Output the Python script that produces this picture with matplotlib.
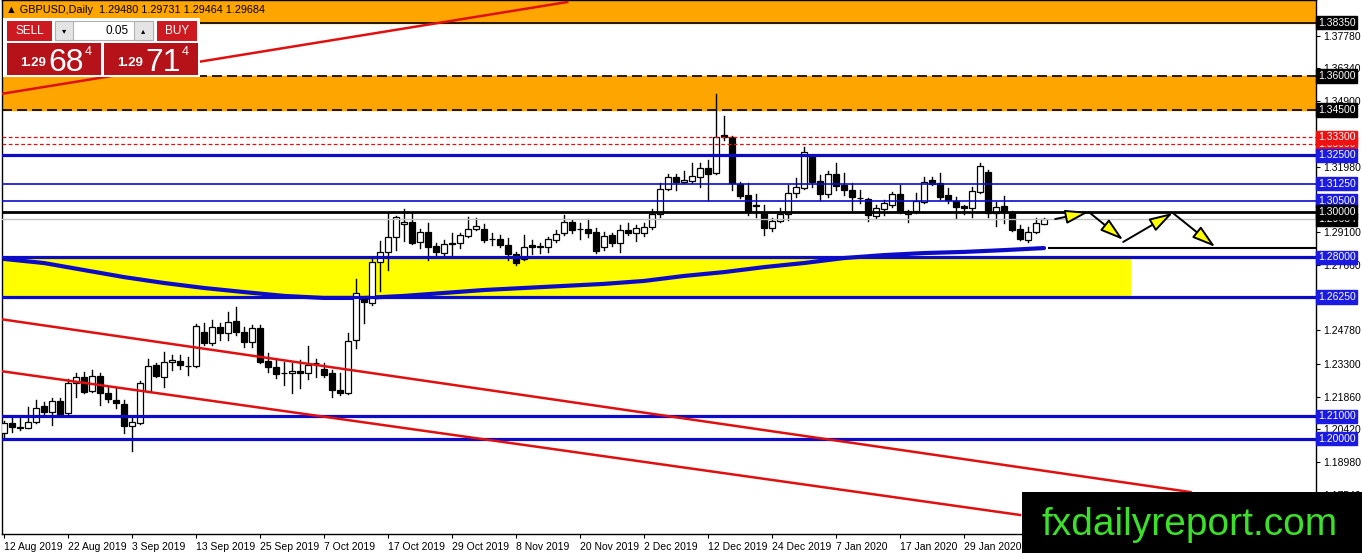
import matplotlib
matplotlib.use('Agg')
import matplotlib.pyplot as plt
from matplotlib.patches import Rectangle

plt.rcParams['font.family'] = ['Liberation Sans', 'DejaVu Sans']

# daily GBPUSD candles, 12 Aug 2019 -> 12 Feb 2020
opens = [1.2026, 1.2070, 1.2050, 1.2048, 1.2074, 1.2145, 1.2118, 1.2167, 1.2114, 1.2246,
         1.2272, 1.2211, 1.2277, 1.2202, 1.2171, 1.2153, 1.2056, 1.2070, 1.2211, 1.2325,
         1.2272, 1.2338, 1.2343, 1.2321, 1.2321, 1.2471, 1.2422, 1.2493, 1.2467, 1.2519,
         1.2471, 1.2427, 1.2489, 1.2343, 1.2316, 1.2290, 1.2290, 1.2299, 1.2290, 1.2334,
         1.2308, 1.2290, 1.2215, 1.2202, 1.2436, 1.2621, 1.2599, 1.2780, 1.2824, 1.2890,
         1.2947, 1.2956, 1.2868, 1.2912, 1.2850, 1.2819, 1.2863, 1.2863, 1.2894, 1.2925,
         1.2925, 1.2881, 1.2881, 1.2855, 1.2815, 1.2793, 1.2855, 1.2846, 1.2846, 1.2877,
         1.2908, 1.2956, 1.2925, 1.2925, 1.2912, 1.2846, 1.2899, 1.2863, 1.2921, 1.2908,
         1.2908, 1.2934, 1.2991, 1.3102, 1.3154, 1.3132, 1.3137, 1.3154, 1.3194, 1.3172,
         1.3340, 1.3331, 1.3124, 1.3075, 1.3031, 1.2996, 1.2930, 1.2960, 1.2991, 1.3084,
         1.3106, 1.3247, 1.3137, 1.3079, 1.3168, 1.3119, 1.3097, 1.3062, 1.3058, 1.2982,
         1.3013, 1.3031, 1.3079, 1.2991, 1.3004, 1.3044, 1.3141, 1.3128, 1.3075, 1.3049,
         1.3027, 1.3018, 1.3088, 1.3176, 1.2996, 1.3027, 1.3000, 1.2925, 1.2877, 1.2912,
         1.2948]
highs = [1.2079, 1.2092, 1.2092, 1.2140, 1.2171, 1.2162, 1.2180, 1.2180, 1.2264, 1.2290,
         1.2294, 1.2303, 1.2290, 1.2228, 1.2224, 1.2171, 1.2092, 1.2255, 1.2352, 1.2334,
         1.2383, 1.2369, 1.2369, 1.2361, 1.2506, 1.2511, 1.2524, 1.2511, 1.2559, 1.2581,
         1.2493, 1.2502, 1.2502, 1.2378, 1.2356, 1.2338, 1.2334, 1.2347, 1.2409, 1.2352,
         1.2334, 1.2303, 1.2290, 1.2467, 1.2705, 1.2625, 1.2797, 1.2872, 1.2996, 1.2982,
         1.3013, 1.2996, 1.2925, 1.2952, 1.2863, 1.2877, 1.2908, 1.2908, 1.2978, 1.2974,
         1.2947, 1.2908, 1.2899, 1.2886, 1.2824, 1.2899, 1.2877, 1.2863, 1.2890, 1.2921,
         1.2987, 1.2965, 1.2952, 1.2969, 1.2930, 1.2912, 1.2908, 1.2943, 1.2952, 1.2943,
         1.2952, 1.3013, 1.3128, 1.3168, 1.3168, 1.3181, 1.3216, 1.3216, 1.3229, 1.3520,
         1.3423, 1.3335, 1.3132, 1.3128, 1.3079, 1.3031, 1.2974, 1.3018, 1.3119, 1.3150,
         1.3287, 1.3251, 1.3163, 1.3181, 1.3216, 1.3172, 1.3128, 1.3097, 1.3060, 1.3031,
         1.3053, 1.3088, 1.3119, 1.3009, 1.3084, 1.3154, 1.3154, 1.3172, 1.3106, 1.3066,
         1.3031, 1.3110, 1.3216, 1.3185, 1.3044, 1.3071, 1.3004, 1.2943, 1.2934, 1.2974,
         1.2973]
lows = [1.2008, 1.2030, 1.2039, 1.2046, 1.2070, 1.2105, 1.2061, 1.2101, 1.2101, 1.2184,
        1.2202, 1.2206, 1.2149, 1.2162, 1.2136, 1.2026, 1.1946, 1.2065, 1.2208, 1.2272,
        1.2228, 1.2303, 1.2308, 1.2281, 1.2318, 1.2414, 1.2414, 1.2436, 1.2436, 1.2458,
        1.2405, 1.2405, 1.2336, 1.2294, 1.2268, 1.2237, 1.2202, 1.2224, 1.2264, 1.2272,
        1.2272, 1.2184, 1.2193, 1.2198, 1.2400, 1.2511, 1.2590, 1.2652, 1.2744, 1.2832,
        1.2872, 1.2860, 1.2841, 1.2788, 1.2802, 1.2802, 1.2802, 1.2841, 1.2890, 1.2921,
        1.2868, 1.2855, 1.2846, 1.2788, 1.2766, 1.2788, 1.2815, 1.2819, 1.2824, 1.2868,
        1.2899, 1.2908, 1.2881, 1.2890, 1.2819, 1.2832, 1.2850, 1.2824, 1.2899, 1.2872,
        1.2894, 1.2925, 1.2978, 1.3097, 1.3097, 1.3128, 1.3128, 1.3110, 1.3053, 1.3168,
        1.3318, 1.3097, 1.3062, 1.2987, 1.2978, 1.2899, 1.2916, 1.2956, 1.2965, 1.3066,
        1.3102, 1.3110, 1.3053, 1.3066, 1.3097, 1.3075, 1.3009, 1.3040, 1.2960, 1.2974,
        1.2987, 1.3022, 1.2996, 1.2956, 1.2996, 1.3040, 1.3119, 1.3057, 1.3040, 1.2974,
        1.2991, 1.2978, 1.3084, 1.2978, 1.2938, 1.2952, 1.2916, 1.2877, 1.2868, 1.2908,
        1.2946]
closes = [1.2070, 1.2052, 1.2048, 1.2074, 1.2136, 1.2118, 1.2167, 1.2109, 1.2246, 1.2272,
          1.2206, 1.2277, 1.2202, 1.2175, 1.2158, 1.2056, 1.2074, 1.2246, 1.2321, 1.2277,
          1.2338, 1.2347, 1.2325, 1.2323, 1.2497, 1.2422, 1.2493, 1.2467, 1.2515, 1.2471,
          1.2427, 1.2489, 1.2338, 1.2316, 1.2286, 1.2288, 1.2299, 1.2290, 1.2325, 1.2332,
          1.2281, 1.2215, 1.2202, 1.2431, 1.2643, 1.2603, 1.2780, 1.2824, 1.2890, 1.2978,
          1.2956, 1.2863, 1.2912, 1.2846, 1.2824, 1.2859, 1.2861, 1.2899, 1.2925, 1.2938,
          1.2877, 1.2879, 1.2855, 1.2815, 1.2775, 1.2846, 1.2846, 1.2848, 1.2881, 1.2903,
          1.2956, 1.2921, 1.2923, 1.2908, 1.2828, 1.2894, 1.2863, 1.2921, 1.2908, 1.2930,
          1.2934, 1.2991, 1.3102, 1.3154, 1.3132, 1.3141, 1.3159, 1.3194, 1.3168, 1.3331,
          1.3331, 1.3128, 1.3071, 1.3000, 1.3027, 1.2930, 1.2960, 1.2991, 1.3084, 1.3110,
          1.3265, 1.3132, 1.3079, 1.3168, 1.3115, 1.3097, 1.3066, 1.3060, 1.2987, 1.3018,
          1.3040, 1.3079, 1.3000, 1.3004, 1.3049, 1.3132, 1.3124, 1.3066, 1.3053, 1.3022,
          1.3018, 1.3093, 1.3203, 1.2996, 1.3022, 1.3000, 1.2921, 1.2881, 1.2912, 1.2952,
          1.2968]

# moving average, sampled every 5 bars
ma_bars = [0, 5, 10, 15, 20, 25, 30, 35, 40, 45, 50, 55, 60, 65,
           70, 75, 80, 85, 90, 95, 100, 105, 110, 115, 120, 125, 130]
ma_vals = [1.2793, 1.2775, 1.2744, 1.2713, 1.2687, 1.2665, 1.2647, 1.2630, 1.2621, 1.2621,
           1.2630, 1.2643, 1.2656, 1.2665, 1.2674, 1.2683, 1.2696, 1.2718, 1.2735, 1.2757,
           1.2775, 1.2797, 1.2810, 1.2819, 1.2824, 1.2832, 1.2841]

date_labels = ['12 Aug 2019', '22 Aug 2019', '3 Sep 2019', '13 Sep 2019', '25 Sep 2019',
               '7 Oct 2019', '17 Oct 2019', '29 Oct 2019', '8 Nov 2019', '20 Nov 2019',
               '2 Dec 2019', '12 Dec 2019', '24 Dec 2019', '7 Jan 2020', '17 Jan 2020',
               '29 Jan 2020']
price_ticks = [1.3778, 1.3634, 1.3490, 1.3198, 1.2910, 1.2766, 1.2478, 1.2330,
               1.2186, 1.2042, 1.1898, 1.1754]

# support / resistance levels
blue_levels = [1.3250, 1.2800, 1.2625, 1.2100, 1.2000]
thin_blue_levels = [1.3125, 1.3050]
red_dash_levels = [1.3330, 1.3300]
orange_zone = (1.3450, 1.3600)
top_zone = 1.3835
yellow_zone = (1.2625, 1.2800)
yellow_end_bar = 140.8
bid_price = 1.29684
key_level = 1.3000
small_line = (130.6, 1.2841)

# trend lines: ((bar, price), (bar, price))
trend_lines = [((-0.5, 1.3520), (70.4, 1.3926)),
               ((-0.5, 1.2528), (148.3, 1.1765)),
               ((-0.5, 1.2299), (127.0, 1.1664))]
# projected path
arrows = [((131.4, 1.2969), (135.6, 1.3000)),
          ((135.6, 1.3000), (139.9, 1.2877)),
          ((139.9, 1.2868), (146.1, 1.2996)),
          ((146.1, 1.2996), (151.4, 1.2846))]

BLUE = '#0c0cc8'
LBL_BLUE = '#1a1ae0'
ORANGE = '#ffa500'

fig = plt.figure(figsize=(13.62, 5.53), dpi=100)
ax = fig.add_axes([2 / 1362, 19 / 553, 1314 / 1362, 534 / 553])
ax.set_xlim(-0.25, 164)
ax.set_ylim(1.1580, 1.3935)
ax.set_facecolor('white')

# zones
ax.axhspan(top_zone, 1.40, color=ORANGE, zorder=0)
ax.axhspan(orange_zone[0], orange_zone[1], color=ORANGE, zorder=0)
ax.add_patch(Rectangle((-0.25, yellow_zone[0]), yellow_end_bar + 0.25,
                       yellow_zone[1] - yellow_zone[0], color='#ffff00', zorder=0))

# moving average
ax.plot(ma_bars, ma_vals, color=BLUE, lw=3, zorder=2, solid_capstyle='round')

# candles
n = len(opens)
for i in range(n):
    o, h, l, c = opens[i], highs[i], lows[i], closes[i]
    ax.plot([i, i], [l, h], color='black', lw=1, zorder=3)
    bottom = min(o, c)
    height = max(abs(c - o), 0.00005)
    fc = 'white' if c >= o else 'black'
    ax.add_patch(Rectangle((i - 0.32, bottom), 0.64, height, facecolor=fc,
                           edgecolor='black', lw=0.9, zorder=4))

# horizontal lines
ax.axhline(top_zone, color='black', lw=1.2, zorder=5)
for lv in orange_zone:
    ax.axhline(lv, color='black', lw=1.2, ls=(0, (6, 3)), zorder=5)
for lv in red_dash_levels:
    ax.axhline(lv, color='#e01010', lw=0.9, ls=(0, (3, 2)), zorder=5)
for lv in blue_levels:
    ax.axhline(lv, color=BLUE, lw=2.3, zorder=5)
for lv in thin_blue_levels:
    ax.axhline(lv, color=BLUE, lw=1.2, zorder=5)
ax.axhline(bid_price, color='#c0c0c0', lw=1, zorder=5)
ax.axhline(key_level, color='black', lw=2, zorder=5)
ax.plot([small_line[0], 170], [small_line[1], small_line[1]], color='black', lw=1.5, zorder=5)

for (x0, y0), (x1, y1) in trend_lines:
    ax.plot([x0, x1], [y0, y1], color='#e01010', lw=1.8, zorder=6)

for (x0, y0), (x1, y1) in arrows:
    ax.annotate('', xy=(x1, y1), xytext=(x0, y0), zorder=7,
                arrowprops=dict(arrowstyle='-|>,head_length=1.1,head_width=0.33',
                                fc='#ffff00', ec='black', lw=1.4, mutation_scale=13,
                                shrinkA=0, shrinkB=0))

# axes styling
for s in ax.spines.values():
    s.set_color('black')
    s.set_linewidth(1)
ax.yaxis.tick_right()
ax.set_yticks(price_ticks)
ax.set_yticklabels([f'{p:.5f}' for p in price_ticks])
ax.set_xticks(range(0, 8 * len(date_labels), 8))
ax.set_xticklabels(date_labels, ha='left')
ax.tick_params(axis='both', direction='out', length=3, width=0.8, labelsize=7.5,
               colors='black', pad=2)
ax.tick_params(axis='x', pad=3)

# price labels on the right axis
axis_tags = [(1.3835, 'black'), (1.3600, 'black'), (1.3450, 'black'),
             (1.3300, '#ee1111'), (1.3330, '#ee1111'), (1.3250, LBL_BLUE),
             (1.3125, LBL_BLUE), (1.3050, LBL_BLUE), (bid_price, 'black'),
             (1.3000, 'black'), (1.2800, LBL_BLUE), (1.2625, LBL_BLUE),
             (1.2100, LBL_BLUE), (1.2000, LBL_BLUE)]
for lv, col in axis_tags:
    ax.text(1.0015, lv, f'{lv:.5f}', transform=ax.get_yaxis_transform(), ha='left',
            va='center', color='white', fontsize=7.5, zorder=10, clip_on=False,
            bbox=dict(facecolor=col, edgecolor=col, boxstyle='square,pad=0.15'))

ax.text(0.003, 1.3893, '\u25b2 GBPUSD,Daily  1.29480 1.29731 1.29464 1.29684',
        transform=ax.get_yaxis_transform(), fontsize=7.8, va='center', ha='left',
        zorder=10)

# overlay in pixel coordinates for the trade panel and watermark
ov = fig.add_axes([0, 0, 1, 1], zorder=20)
ov.set_xlim(0, 1362)
ov.set_ylim(553, 0)
ov.axis('off')
ov.patch.set_alpha(0)

RED = '#cc1a20'
DARK = '#b5121a'
ov.add_patch(Rectangle((3, 18), 197, 59, facecolor='white', edgecolor='none'))
ov.add_patch(Rectangle((7, 21), 45, 20, facecolor=RED, edgecolor='none'))
ov.text(29.5, 31, 'SELL', color='white', fontsize=8.5, ha='center', va='center')
ov.add_patch(Rectangle((157, 21), 40, 20, facecolor=RED, edgecolor='none'))
ov.text(177, 31, 'BUY', color='white', fontsize=8.5, ha='center', va='center')
ov.add_patch(Rectangle((55, 21), 98, 19, facecolor='white', edgecolor='#b0b0b0', lw=0.8))
ov.add_patch(Rectangle((55, 21), 18, 19, facecolor='#e4e4e4', edgecolor='#b0b0b0', lw=0.8))
ov.add_patch(Rectangle((134, 21), 19, 19, facecolor='#e4e4e4', edgecolor='#b0b0b0', lw=0.8))
ov.text(64, 30.5, '\u25be', fontsize=6, ha='center', va='center', family='DejaVu Sans')
ov.text(143.5, 30.5, '\u25b4', fontsize=6, ha='center', va='center', family='DejaVu Sans')
ov.text(129, 30.5, '0.05', fontsize=8.5, ha='right', va='center')

for x0, big in [(7, '68'), (104, '71')]:
    ov.add_patch(Rectangle((x0, 43), 94, 32, facecolor=DARK, edgecolor='none'))
    ov.text(x0 + 13, 66, '1.29', color='white', fontsize=9.5, ha='left',
            va='baseline', weight='bold')
    ov.text(x0 + 41, 71, big, color='white', fontsize=23, ha='left', va='baseline')
    ov.text(x0 + 78, 55, '4', color='white', fontsize=9, ha='left', va='baseline')

ov.add_patch(Rectangle((1022, 492), 340, 61, facecolor='black', edgecolor='none'))
ov.text(1190, 535, 'fxdailyreport.com', color='#3ce02a', fontsize=28,
        ha='center', va='baseline')

fig.savefig('out.png', dpi=100)
